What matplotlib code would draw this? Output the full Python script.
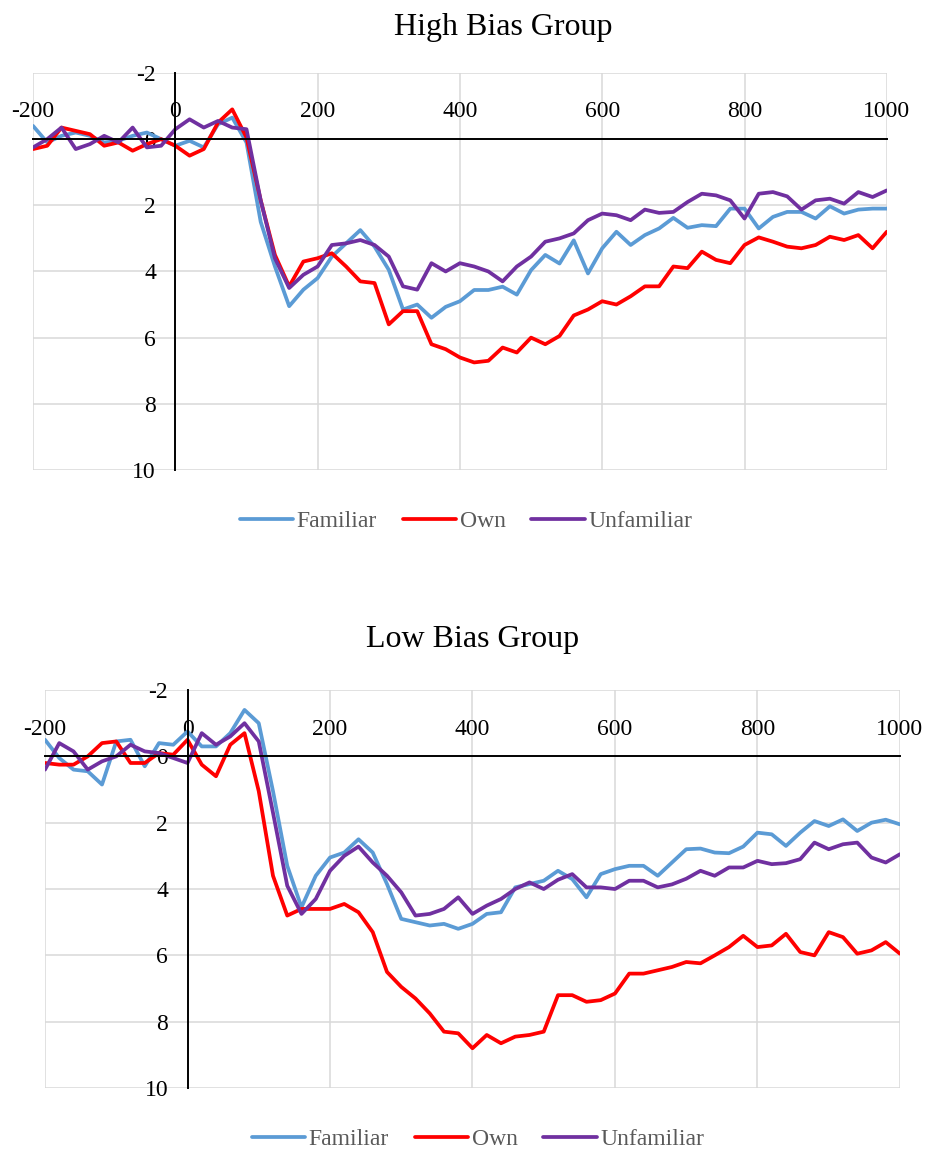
import numpy as np
import matplotlib
matplotlib.use('Agg')
import matplotlib.pyplot as plt

plt.rcParams['font.family'] = ['Liberation Serif', 'DejaVu Serif']
plt.rcParams['axes.unicode_minus'] = False

# time axis (ms), one sample every 20 ms
times = np.arange(-200, 1001, 20)

# High bias group (amplitude, microvolts)
high_familiar = [-0.4, 0.1, -0.1, -0.2, -0.1, 0.1, 0.05, -0.1, -0.2, 0.0,
                 0.2, 0.05, 0.25, -0.45, -0.65, 0.1, 2.5, 3.85, 5.05, 4.55,
                 4.2, 3.55, 3.15, 2.75, 3.25, 3.95, 5.15, 5.0, 5.4, 5.07,
                 4.9, 4.56, 4.56, 4.46, 4.7, 3.96, 3.5, 3.76, 3.06, 4.06,
                 3.3, 2.8, 3.2, 2.9, 2.7, 2.38, 2.68, 2.6, 2.63, 2.1,
                 2.1, 2.7, 2.35, 2.2, 2.2, 2.4, 2.03, 2.25, 2.13, 2.1, 2.1]
high_own = [0.3, 0.2, -0.35, -0.25, -0.15, 0.2, 0.1, 0.35, 0.15, 0.0,
            0.2, 0.5, 0.3, -0.5, -0.9, -0.05, 1.85, 3.5, 4.45, 3.7,
            3.6, 3.45, 3.85, 4.3, 4.35, 5.6, 5.2, 5.2, 6.2, 6.35,
            6.6, 6.75, 6.7, 6.3, 6.45, 6.0, 6.2, 5.95, 5.33, 5.15,
            4.9, 5.0, 4.75, 4.45, 4.45, 3.85, 3.9, 3.4, 3.65, 3.75,
            3.2, 2.97, 3.1, 3.25, 3.3, 3.2, 2.95, 3.05, 2.9, 3.3, 2.8]
high_unfamiliar = [0.25, 0.0, -0.35, 0.3, 0.15, -0.1, 0.1, -0.35, 0.25, 0.2,
                   -0.3, -0.6, -0.35, -0.55, -0.35, -0.3, 1.85, 3.6, 4.5, 4.1,
                   3.85, 3.2, 3.15, 3.05, 3.2, 3.55, 4.45, 4.55, 3.75, 4.0,
                   3.75, 3.85, 4.0, 4.3, 3.85, 3.55, 3.1, 3.0, 2.85, 2.45,
                   2.25, 2.3, 2.45, 2.13, 2.23, 2.2, 1.9, 1.65, 1.7, 1.85,
                   2.4, 1.65, 1.6, 1.73, 2.13, 1.85, 1.8, 1.95, 1.6, 1.75, 1.55]

# Low bias group
low_familiar = [-0.5, 0.05, 0.4, 0.45, 0.85, -0.45, -0.5, 0.3, -0.4, -0.35,
                -0.75, -0.3, -0.3, -0.7, -1.4, -1.0, 1.05, 3.3, 4.55, 3.6,
                3.05, 2.9, 2.5, 2.9, 3.85, 4.9, 5.0, 5.1, 5.05, 5.2,
                5.05, 4.75, 4.7, 3.95, 3.85, 3.75, 3.45, 3.7, 4.25, 3.55,
                3.4, 3.3, 3.3, 3.6, 3.2, 2.8, 2.78, 2.9, 2.92, 2.72,
                2.3, 2.35, 2.7, 2.3, 1.95, 2.1, 1.9, 2.25, 2.0, 1.91, 2.05]
low_own = [0.2, 0.25, 0.25, 0.0, -0.4, -0.45, 0.2, 0.2, -0.1, -0.05,
           -0.5, 0.25, 0.6, -0.35, -0.7, 1.05, 3.6, 4.8, 4.6, 4.6,
           4.6, 4.45, 4.7, 5.3, 6.5, 6.95, 7.3, 7.75, 8.3, 8.35,
           8.8, 8.4, 8.65, 8.45, 8.4, 8.3, 7.2, 7.2, 7.4, 7.35,
           7.15, 6.55, 6.55, 6.45, 6.35, 6.2, 6.24, 6.0, 5.75, 5.41,
           5.75, 5.7, 5.35, 5.9, 6.0, 5.3, 5.45, 5.95, 5.85, 5.6, 5.95]
low_unfamiliar = [0.4, -0.4, -0.15, 0.4, 0.15, 0.0, -0.35, -0.15, -0.1, 0.05,
                  0.2, -0.7, -0.35, -0.6, -1.0, -0.45, 1.7, 3.9, 4.75, 4.3,
                  3.45, 3.0, 2.72, 3.2, 3.6, 4.1, 4.8, 4.75, 4.6, 4.25,
                  4.75, 4.5, 4.3, 4.0, 3.8, 4.0, 3.72, 3.55, 3.95, 3.95,
                  4.0, 3.75, 3.75, 3.95, 3.86, 3.69, 3.45, 3.6, 3.35, 3.35,
                  3.15, 3.25, 3.22, 3.1, 2.6, 2.8, 2.65, 2.6, 3.05, 3.2, 2.95]

series_names = ['Familiar', 'Own', 'Unfamiliar']
colors = ['#5B9BD5', '#FF0000', '#7030A0']

fig = plt.figure(figsize=(9.28, 11.51), dpi=100)
ax_top = fig.add_axes([0.0356, 0.5917, 0.920, 0.3449])
ax_bot = fig.add_axes([0.0485, 0.0547, 0.9213, 0.3458])

panels = [
    (ax_top, 'High Bias Group', [high_familiar, high_own, high_unfamiliar], 503, 27, 466, 521),
    (ax_bot, 'Low Bias Group', [low_familiar, low_own, low_unfamiliar], 473, 640, 478, 1139),
]

for ax, title, data, tx, ty, lx, ly in panels:
    for name, vals, c in zip(series_names, data, colors):
        ax.plot(times, vals, color=c, lw=2.7, label=name,
                solid_capstyle='round', solid_joinstyle='round')
    ax.set_xlim(-200, 1000)
    ax.set_ylim(10, -2)
    ax.set_xticks(np.arange(-200, 1001, 200))
    ax.set_yticks(np.arange(-2, 11, 2))
    ax.grid(True, color='#D9D9D9', lw=1.1)
    ax.set_axisbelow(True)
    # axes cross at (0, 0)
    ax.spines['left'].set_position(('data', 0))
    ax.spines['top'].set_position(('data', 0))
    ax.spines['bottom'].set_visible(False)
    ax.spines['right'].set_visible(False)
    for s in ('left', 'top'):
        ax.spines[s].set_linewidth(1.4)
        ax.spines[s].set_zorder(3)
    ax.xaxis.set_ticks_position('top')
    ax.tick_params(axis='x', length=0, pad=12, labelsize=17)
    ax.tick_params(axis='y', length=0, pad=14, labelsize=17)
    fig.text(tx / 928, 1 - ty / 1151, title, ha='center', va='center', fontsize=23)
    ax.legend(loc='center', bbox_to_anchor=(lx / 928, 1 - ly / 1151),
              bbox_transform=fig.transFigure, ncol=3, frameon=False,
              fontsize=17, handlelength=2.25, handletextpad=0.15,
              columnspacing=1.1, labelcolor='#595959')

fig.savefig('out.png', dpi=100)
